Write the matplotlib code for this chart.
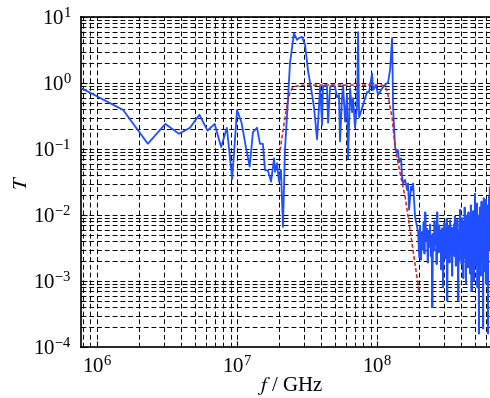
import numpy as np
import matplotlib.pyplot as plt

plt.rcParams['font.family'] = ['Liberation Serif', 'DejaVu Serif']
plt.rcParams['mathtext.fontset'] = 'stix'

# measured transmission, sparse part (frequency in MHz)
meas_f = [0.77, 1.54, 2.31, 3.08, 3.85, 4.62, 5.39, 6.16, 6.93, 7.70,
          8.47, 9.24, 10.01, 10.78, 11.55, 12.32, 13.0, 13.9, 14.6, 15.3,
          15.85, 16.65, 17.5, 18.4, 18.7, 19.3, 19.95, 20.6, 21.3, 22.0,
          23.1, 23.9, 25.5, 26.8, 27.7, 29.1, 30.6, 32.2, 33.8, 35.5,
          37.3, 39.2, 40.5, 41.1, 42.5, 43.9, 44.7, 46.2, 47.7, 50.1,
          51.8, 53.5, 54.4, 56.2, 57.2, 59.1, 61.0, 62.1, 64.2, 66.3,
          67.4, 69.6, 72.0, 73.2, 74.4, 78.2, 80.8, 84.8, 87.7, 92.1,
          93.6, 98.4, 101.6, 108.6, 114.0, 119.8, 123.9, 128.0, 130.2, 134.5,
          139.0, 141.3, 143.6, 148.4, 150.8, 153.4, 158.5, 163.8, 166.5, 169.2,
          175.0, 177.8, 180.8, 186.8, 193.1, 196.3]
meas_T = [0.84, 0.39, 0.12, 0.24, 0.17, 0.21, 0.33, 0.19, 0.24, 0.107,
          0.21, 0.035, 0.39, 0.25, 0.11, 0.054, 0.18, 0.21, 0.12, 0.12,
          0.048, 0.047, 0.032, 0.072, 0.045, 0.061, 0.032, 0.048, 0.0066, 0.096,
          0.55, 2.0, 5.7, 4.5, 4.8, 5.0, 3.8, 1.5, 0.83, 0.42,
          0.14, 0.87, 0.23, 0.87, 0.93, 0.87, 0.25, 0.87, 0.93, 0.87,
          0.61, 0.66, 0.13, 0.61, 0.93, 0.26, 0.66, 0.072, 0.83, 0.36,
          0.59, 0.21, 0.46, 5.9, 0.30, 0.42, 0.52, 0.73, 0.73, 1.4,
          0.78, 0.93, 0.66, 0.83, 0.93, 1.02, 1.6, 4.8, 0.42, 0.105,
          0.087, 0.096, 0.063, 0.072, 0.038, 0.030, 0.034, 0.024, 0.030, 0.012,
          0.027, 0.024, 0.030, 0.0093, 0.0066, 0.0054]

# dense noisy tail, sampled every 3 MHz from 200 MHz
tail_start = 200.0
tail_step = 3.0
tail_T = [0.0023, 0.0068, 0.0021, 0.0055, 0.0030, 0.0078, 0.0026, 0.0110, 0.0040, 0.0062,
          0.0019, 0.0058, 0.0033, 0.0072, 0.0024, 0.0049, 0.0004,
          0.0052, 0.0029, 0.0081, 0.0036, 0.0065, 0.0018, 0.0110, 0.0045, 0.0027,
          0.0070, 0.0032, 0.0056, 0.0015, 0.0063, 0.0028, 0.0008, 0.0047,
          0.0075, 0.0022, 0.0060, 0.0034, 0.0088, 0.0005, 0.0052, 0.0030, 0.0069,
          0.0019, 0.0083, 0.0038, 0.0026, 0.0064, 0.0012, 0.0057, 0.0031,
          0.0072, 0.0024, 0.0095, 0.0041, 0.0017, 0.0066, 0.0029, 0.0085, 0.0036,
          0.0005, 0.0058, 0.0021, 0.0079, 0.0120, 0.0033, 0.0061, 0.0018,
          0.0090, 0.0027, 0.0054, 0.0011, 0.0076, 0.0038, 0.0130, 0.0022, 0.0067,
          0.0009, 0.0048, 0.0098, 0.0030, 0.0071, 0.0016, 0.0110, 0.0042,
          0.0025, 0.0087, 0.0013, 0.0060, 0.0140, 0.0035, 0.0007, 0.0079, 0.0046,
          0.0020, 0.0115, 0.0052, 0.0010, 0.0093, 0.0031, 0.0210, 0.0044,
          0.0017, 0.0120, 0.0058, 0.0026, 0.0150, 0.0008, 0.0068, 0.0039, 0.0098,
          0.00016, 0.0072, 0.0029, 0.0130, 0.0048, 0.0012, 0.0085, 0.0034,
          0.0160, 0.0021, 0.0075, 0.0040, 0.0110, 0.00019, 0.0063, 0.0180, 0.0027,
          0.0092, 0.0014, 0.0120, 0.0050, 0.0033, 0.0170, 0.0009, 0.0066,
          0.0038, 0.0140, 0.0023, 0.0081, 0.00016, 0.0105, 0.0045, 0.0190, 0.0030,
          0.0120, 0.0260]

# filter response (red dashed)
filt_f = [20.3, 22.0, 23.1, 23.9, 25.1, 28.2, 40.0, 60.0, 80.0, 100.0,
          108.6, 114.0, 118.4, 123.9, 128.0, 134.5, 146.0, 158.5, 163.8, 177.8, 199.5]
filt_T = [0.095, 0.30, 0.55, 0.72, 0.87, 0.92, 0.93, 0.93, 0.93, 0.93,
          0.93, 0.88, 0.75, 0.43, 0.30, 0.107, 0.043, 0.019, 0.012, 0.0037, 0.00068]

tail_f = tail_start + tail_step * np.arange(len(tail_T))
blue_f = np.concatenate([meas_f, tail_f]) * 1e6
blue_T = np.concatenate([meas_T, tail_T])

fig = plt.figure(figsize=(4.9, 3.98), dpi=100)
ax = fig.add_axes([81 / 490, 1 - 347 / 398, 409 / 490, 330 / 398])

ax.plot(blue_f, blue_T, color='#1f4fff', lw=1.3, zorder=3)
ax.plot(np.array(filt_f) * 1e6, filt_T, color='#d42020', lw=1.1,
        linestyle=(0, (2.5, 1.5)), zorder=4)

ax.set_xscale('log')
ax.set_yscale('log')
ax.set_xlim(7.7e5, 6.4e8)
ax.set_ylim(1e-4, 1e1)

ax.grid(True, which='both', color='black', lw=0.7, linestyle=(0, (5, 3)))
ax.spines['right'].set_visible(False)
for s in ['left', 'bottom', 'top']:
    ax.spines[s].set_linewidth(1.2)
ax.tick_params(which='both', direction='in', labelsize=15, pad=7)
ax.tick_params(which='major', length=4)
ax.tick_params(which='minor', length=2)

ax.set_xlabel(r'$f$ / GHz', fontsize=15)
ax.xaxis.set_label_coords(209 / 409, -0.085, transform=ax.transAxes)
ax.set_ylabel(r'$T$', fontsize=15, labelpad=1)

fig.savefig('out.png', dpi=100)
